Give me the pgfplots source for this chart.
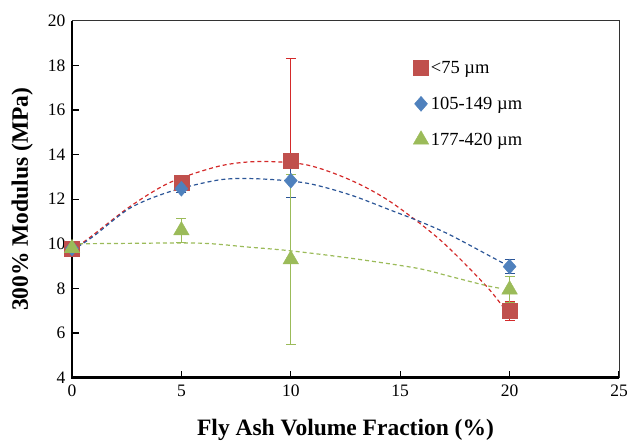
\documentclass[border=0pt]{standalone}
\usepackage{fontspec}
\setmainfont{Liberation Serif}
\usepackage{pgfplots}
\pgfplotsset{compat=1.18}

\definecolor{redm}{HTML}{C0504D}
\definecolor{bluem}{HTML}{4F81BD}
\definecolor{greenm}{HTML}{9BBB59}
\definecolor{redl}{HTML}{D42A2A}
\definecolor{bluel}{HTML}{2B5597}

\begin{document}
\begin{tikzpicture}[x=1pt,y=1pt]
\path[use as bounding box] (-72,-64) rectangle (555,377.7);
\begin{axis}[
  scale only axis,
  width=547pt, height=357pt,
  xmin=0, xmax=25, ymin=4, ymax=20,
  xtick={0,5,...,25}, ytick={4,6,...,20},
  tick pos=left, tick align=inside,
  major tick length=7pt,
  tick style={black, line width=1.2pt},
  axis line style={line width=0.9pt, black!80},
  tick label style={font=\fontsize{17.5}{20}\selectfont},
  /pgf/number format/assume math mode=true,
  xticklabel style={yshift=-4pt},
  yticklabel style={xshift=-3pt},
  xlabel={\textbf{Fly Ash Volume Fraction (\%)}},
  ylabel={\textbf{300\% Modulus (MPa)}},
  x label style={font=\fontsize{23.5}{26}\selectfont, at={(axis description cs:0.5,-0.146)}, anchor=center},
  y label style={font=\fontsize{23.5}{26}\selectfont, at={(axis description cs:-0.091,0.5)}, anchor=center},
  legend style={draw=none, fill=none, at={(axis description cs:0.618,0.898)}, anchor=north west,
    font=\fontsize{18.5}{20}\selectfont, row sep=18pt},
  legend cell align=left,
  clip=false,
]
% trend lines
\addplot[forget plot, smooth, redl, line width=1.2pt, dash pattern=on 4pt off 3pt] coordinates {
  (0,9.7) (0.97,10.4) (2.65,11.67) (4.48,12.75) (6.76,13.49) (8.59,13.69) (10.72,13.54)
  (12.7,12.87) (14.53,11.9) (16.82,10.18) (18.95,8.09) (19.9,6.9)};
\addplot[forget plot, smooth, bluel, line width=1.2pt, dash pattern=on 4pt off 3pt] coordinates {
  (0,9.7) (0.97,10.33) (2.65,11.6) (4.48,12.34) (6.76,12.87) (8.59,12.91) (10.72,12.72)
  (12.7,12.2) (14.53,11.52) (15.9,11.0) (17.28,10.4) (19.56,9.21) (19.8,9.1)};
\addplot[forget plot, smooth, greenm, line width=1.2pt, dash pattern=on 4pt off 3pt] coordinates {
  (0,10.0) (2.5,10.02) (5.85,10.03) (8.1,9.85) (9.96,9.69) (12.7,9.36) (15.75,8.91)
  (17.28,8.54) (18.8,8.16) (19.6,8.0)};
% data
\addplot[only marks, mark=square*, mark size=7.5pt, color=redm,
  error bars/.cd, y dir=both, y explicit,
  error bar style={line width=1pt, redl}, error mark options={rotate=90, mark size=5pt, line width=1pt, redl}]
  coordinates {(0,9.8) +- (0,0.15) (5,12.75) +- (0,0.15) (10,13.72) +- (0,4.6) (20,6.99) +- (0,0.42)};
\addlegendentry{<75 µm}
\addplot[only marks, mark=diamond*, mark size=7.5pt, mark options={xscale=1.15}, color=bluem,
  error bars/.cd, y dir=both, y explicit,
  error bar style={line width=1pt, bluel}, error mark options={rotate=90, mark size=5pt, line width=1pt, bluel}]
  coordinates {(0,9.8) +- (0,0.1) (5,12.47) +- (0,0.15) (10,12.83) +- (0,0.76) (20,8.98) +- (0,0.3)};
\addlegendentry{105-149 µm}
\addplot[only marks, mark=triangle*, mark size=9pt, color=greenm,
  error bars/.cd, y dir=both, y explicit,
  error bar style={line width=1pt, greenm}, error mark options={rotate=90, mark size=5pt, line width=1pt, greenm}]
  coordinates {(0,9.8) +- (0,0.1) (5,10.6) +- (0,0.53) (10,9.3) +- (0,3.8) (20,7.95) +- (0,0.58)};
\addlegendentry{177-420 µm}
\draw[line width=2.4pt, black] (rel axis cs:0,1) -- (rel axis cs:0,0) -- (rel axis cs:1,0);
\end{axis}
\end{tikzpicture}
\end{document}
